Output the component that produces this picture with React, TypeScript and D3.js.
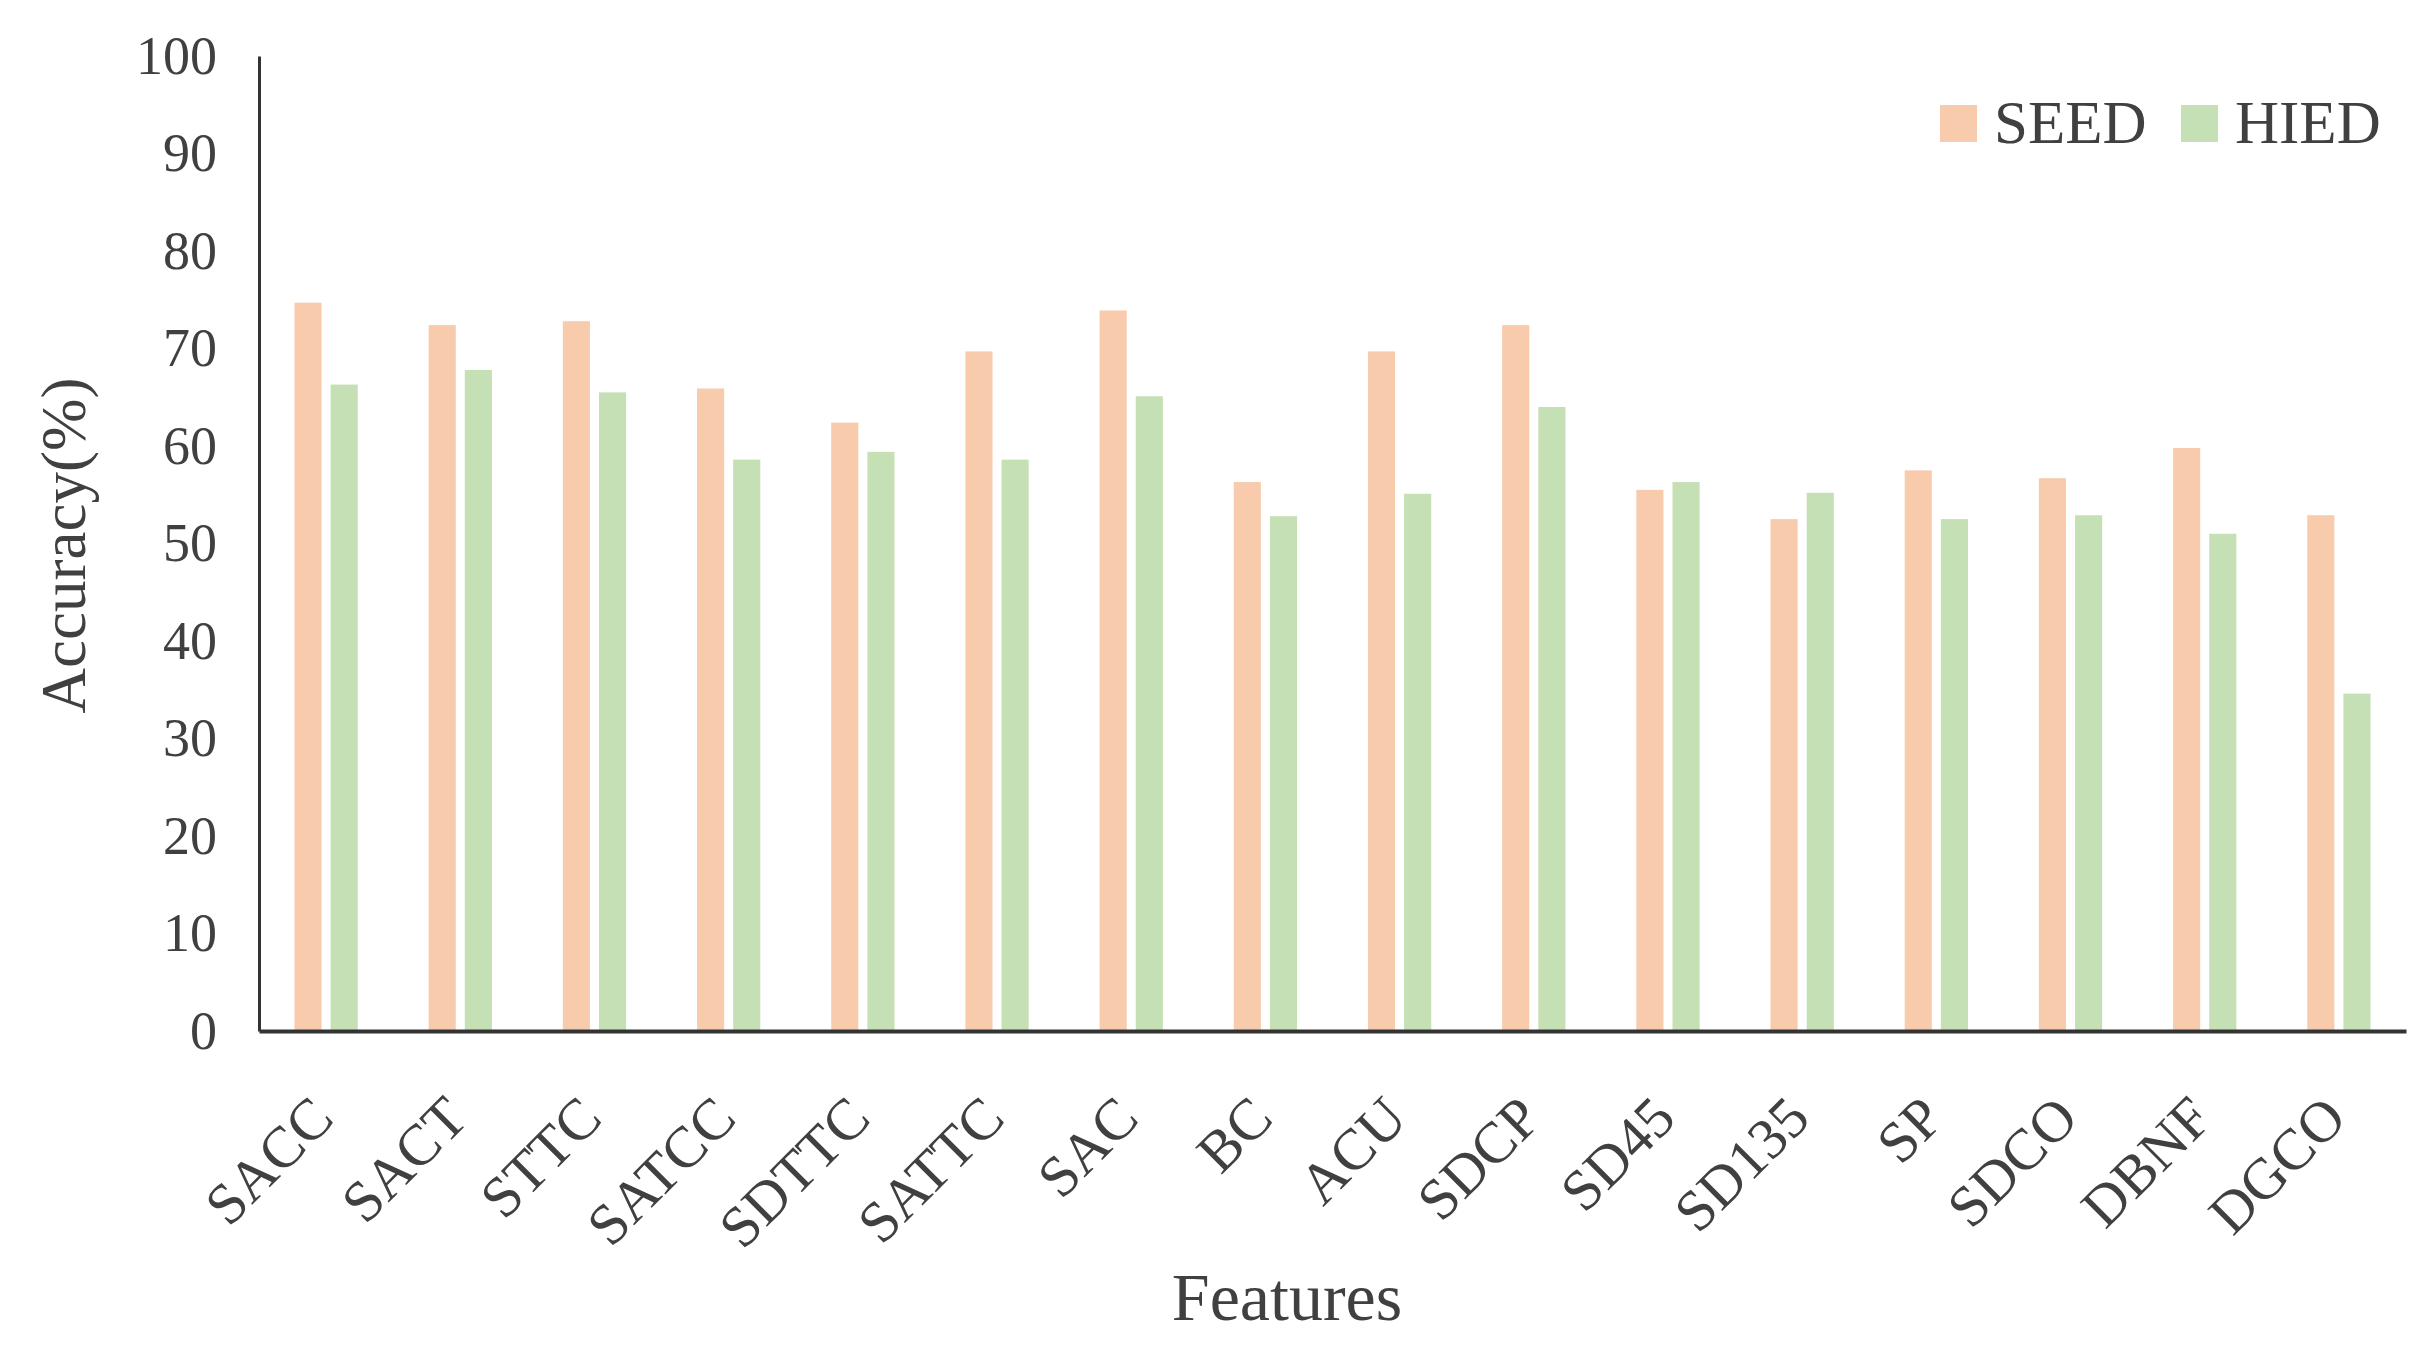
import React, { useEffect, useRef } from 'react';
import * as d3 from 'd3';

const FEATURES = ['SACC', 'SACT', 'STTC', 'SATCC', 'SDTTC', 'SATTC', 'SAC', 'BC', 'ACU', 'SDCP', 'SD45', 'SD135', 'SP', 'SDCO', 'DBNF', 'DGCO'];
const SERIES = ['SEED', 'HIED'];
const SEED_ACC = [74.7, 72.4, 72.8, 65.9, 62.4, 69.7, 73.9, 56.3, 69.7, 72.4, 55.5, 52.5, 57.5, 56.7, 59.8, 52.9];
const HIED_ACC = [66.3, 67.8, 65.5, 58.6, 59.4, 58.6, 65.1, 52.8, 55.1, 64.0, 56.3, 55.2, 52.5, 52.9, 51.0, 34.6];
const Y_TICKS = [0, 10, 20, 30, 40, 50, 60, 70, 80, 90, 100];
const COLORS = ['#F8CBAD', '#C5E0B4'];

const FONT = "'Liberation Serif', 'Times New Roman', serif";
const TEXT_COLOR = '#404040';

const App = () => {
    const svgRef = useRef<SVGSVGElement>(null);

    useEffect(() => {
        document.body.style.margin = '0';
        if (!svgRef.current) return;
        const svg = d3.select(svgRef.current);
        svg.selectAll('*').remove();

        const width = 2431;
        const height = 1355;
        const margin = { top: 56, right: 25, bottom: 324, left: 259 };

        const data = FEATURES.map((f, i) => ({ feature: f, SEED: SEED_ACC[i], HIED: HIED_ACC[i] }));

        svg.attr('width', width).attr('height', height)
            .style('font-family', FONT);

        const x = d3.scaleBand()
            .domain(FEATURES)
            .range([margin.left, width - margin.right])
            .padding(0);

        const xSub = d3.scaleBand()
            .domain(SERIES)
            .range([0, x.bandwidth()])
            .paddingInner(0.25)
            .paddingOuter(0.98);

        const y = d3.scaleLinear()
            .domain([0, 100])
            .range([height - margin.bottom, margin.top]);

        const color = d3.scaleOrdinal<string, string>()
            .domain(SERIES)
            .range(COLORS);

        // bars
        svg.append('g')
            .selectAll('g')
            .data(data)
            .join('g')
            .attr('transform', d => `translate(${x(d.feature)},0)`)
            .selectAll('rect')
            .data(d => SERIES.map(key => ({ key, value: (d as any)[key] as number })))
            .join('rect')
            .attr('x', d => xSub(d.key)!)
            .attr('y', d => y(d.value))
            .attr('width', xSub.bandwidth())
            .attr('height', d => y(0) - y(d.value))
            .attr('fill', d => color(d.key));

        // y axis
        const yAxis = svg.append('g')
            .attr('transform', `translate(${margin.left},0)`)
            .call(d3.axisLeft(y).tickValues(Y_TICKS).tickSize(0).tickPadding(42));
        yAxis.select('.domain').attr('stroke', '#333').attr('stroke-width', 3);
        yAxis.selectAll('.tick text')
            .attr('fill', TEXT_COLOR)
            .style('font-size', '54px')
            .style('font-family', FONT);

        // x axis
        const xAxis = svg.append('g')
            .attr('transform', `translate(0,${y(0)})`)
            .call(d3.axisBottom(x).tickSize(0).tickFormat(d => d as string));
        xAxis.select('.domain').attr('stroke', '#333').attr('stroke-width', 4);
        xAxis.selectAll('.tick text')
            .attr('fill', TEXT_COLOR)
            .style('font-size', '58px')
            .style('font-family', FONT)
            .attr('text-anchor', 'end')
            .attr('dy', null)
            .attr('y', null)
            .attr('transform', 'translate(10,90) rotate(-45)');

        // axis titles
        svg.append('text')
            .attr('transform', `translate(64,${(y(0) + y(100)) / 2 + 2}) rotate(-90)`)
            .attr('text-anchor', 'middle')
            .attr('dominant-baseline', 'central')
            .attr('fill', TEXT_COLOR)
            .style('font-size', '63px')
            .text('Accuracy(%)');

        svg.append('text')
            .attr('x', 1287)
            .attr('y', 1320)
            .attr('text-anchor', 'middle')
            .attr('fill', TEXT_COLOR)
            .style('font-size', '68px')
            .text('Features');

        // legend
        const legendPos = [1940, 2181];
        const legend = svg.append('g');
        const items = legend.selectAll('g')
            .data(SERIES)
            .join('g')
            .attr('transform', (d, i) => `translate(${legendPos[i]},105)`);
        items.append('rect')
            .attr('width', 37)
            .attr('height', 37)
            .attr('fill', d => color(d));
        items.append('text')
            .attr('x', 54)
            .attr('y', 38)
            .attr('fill', TEXT_COLOR)
            .style('font-size', '61px')
            .text(d => d);
    }, []);

    return <svg ref={svgRef} style={{ display: 'block' }}></svg>;
};

export default App;
